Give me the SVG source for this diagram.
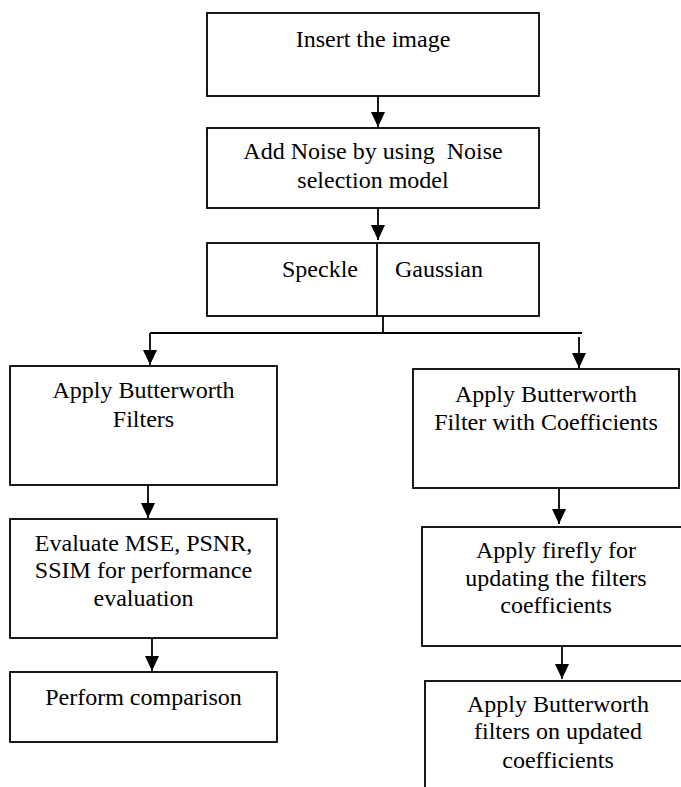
<svg xmlns="http://www.w3.org/2000/svg" width="681" height="787" viewBox="0 0 681 787">
<style>
.box{fill:#fff;stroke:#000;stroke-width:1.8}
.ln{fill:none;stroke:#000;stroke-width:1.8}
</style>
<defs>
<marker id="ah" markerUnits="userSpaceOnUse" markerWidth="16" markerHeight="16" refX="15" refY="7" orient="auto">
<path d="M0,0 L15,7 L0,14 z" fill="#000"/>
</marker>
</defs>
<rect width="681" height="787" fill="#fff"/>
<g id="connectors">
<path class="ln" d="M378,96 V127" marker-end="url(#ah)"/>
<path class="ln" d="M378,208 V240" marker-end="url(#ah)"/>
<path class="ln" d="M383,316 V333 M150,333 H582"/>
<path class="ln" d="M150,333 V365" marker-end="url(#ah)"/>
<path class="ln" d="M579,337 V368" marker-end="url(#ah)"/>
<path class="ln" d="M148,485 V518" marker-end="url(#ah)"/>
<path class="ln" d="M152,638 V671" marker-end="url(#ah)"/>
<path class="ln" d="M559,488 V524" marker-end="url(#ah)"/>
<path class="ln" d="M562,646 V679" marker-end="url(#ah)"/>
</g>
<g font-family="'Liberation Serif', 'Times New Roman', 'DejaVu Serif', serif" font-size="24" fill="#000" text-anchor="middle">
<g id="n1"><rect class="box" x="207" y="13" width="332" height="83"/><text x="373" y="47">Insert the image</text></g>
<g id="n2"><rect class="box" x="207" y="128" width="332" height="80"/><text x="373" y="159" xml:space="preserve">Add Noise by using  Noise</text><text x="373" y="188">selection model</text></g>
<g id="n3"><rect class="box" x="207" y="243" width="332" height="73"/><line class="ln" x1="377" y1="243" x2="377" y2="316"/><text x="320" y="277">Speckle</text><text x="439" y="277">Gaussian</text></g>
<g id="n4"><rect class="box" x="10" y="366" width="267" height="119"/><text x="143.5" y="398">Apply Butterworth</text><text x="143.5" y="427">Filters</text></g>
<g id="n5"><rect class="box" x="413" y="369" width="266" height="119"/><text x="546" y="402">Apply Butterworth</text><text x="546" y="430">Filter with Coefficients</text></g>
<g id="n6"><rect class="box" x="10" y="519" width="267" height="119"/><text x="143.5" y="551">Evaluate MSE, PSNR,</text><text x="143.5" y="578">SSIM for performance</text><text x="143.5" y="606">evaluation</text></g>
<g id="n7"><rect class="box" x="10" y="672" width="267" height="70"/><text x="143.5" y="705">Perform comparison</text></g>
<g id="n8"><rect class="box" x="422" y="527" width="268" height="119"/><text x="556" y="558">Apply firefly for</text><text x="556" y="586">updating the filters</text><text x="556" y="613">coefficients</text></g>
<g id="n9"><rect class="box" x="425" y="681" width="266" height="120"/><text x="558" y="712">Apply Butterworth</text><text x="558" y="739">filters on updated</text><text x="558" y="768">coefficients</text></g>
</g>
</svg>
